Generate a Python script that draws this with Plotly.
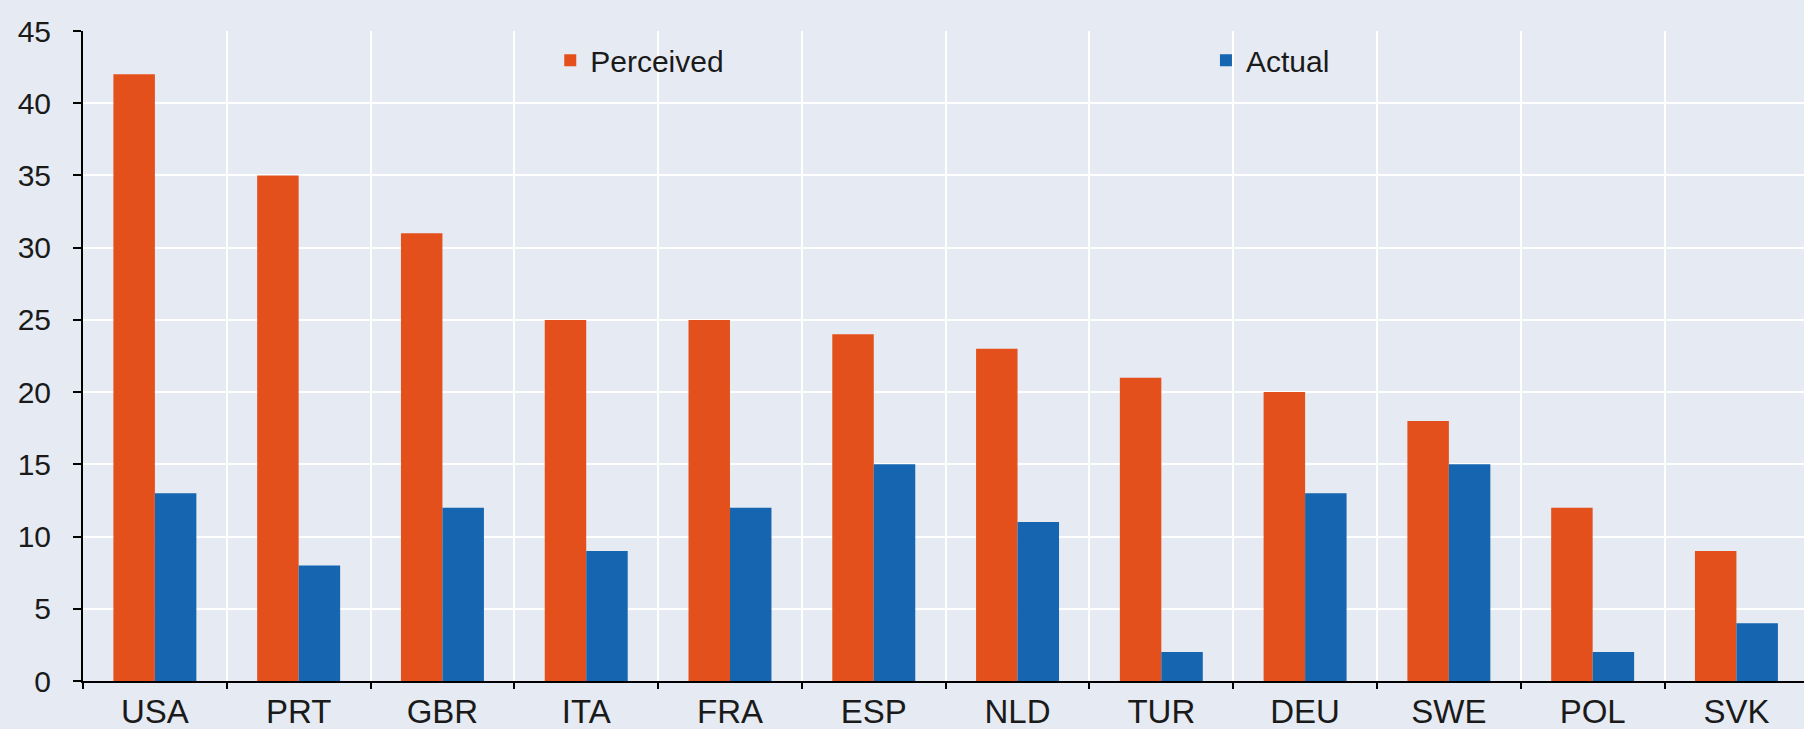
import plotly.graph_objects as go

countries = ["USA", "PRT", "GBR", "ITA", "FRA", "ESP", "NLD", "TUR", "DEU", "SWE", "POL", "SVK"]
perceived = [42, 35, 31, 25, 25, 24, 23, 21, 20, 18, 12, 9]
actual = [13, 8, 12, 9, 12, 15, 11, 2, 13, 15, 2, 4]
y_ticks = [0, 5, 10, 15, 20, 25, 30, 35, 40, 45]

BG = "#E6EAF2"
ORANGE = "#E4501C"
BLUE = "#1565B0"
FONT = "Liberation Sans, Arial, sans-serif"

fig = go.Figure()
fig.add_trace(go.Bar(x=countries, y=perceived, name="Perceived", legend="legend",
                     marker=dict(color=ORANGE, line=dict(width=0))))
fig.add_trace(go.Bar(x=countries, y=actual, name="Actual", legend="legend2",
                     marker=dict(color=BLUE, line=dict(width=0))))

leg_common = dict(orientation="h", y=0.995, xanchor="left", yanchor="top",
                  bgcolor="rgba(0,0,0,0)", itemwidth=30, font=dict(size=30))

fig.update_layout(
    width=1804, height=729,
    margin=dict(l=83, r=0, t=31, b=48),
    paper_bgcolor=BG, plot_bgcolor=BG,
    barmode="group", bargap=0.423, bargroupgap=0,
    font=dict(family=FONT, size=29, color="#1a1a1a"),
    legend=dict(x=0.2715, **leg_common),
    legend2=dict(x=0.6525, **leg_common),
    showlegend=True,
)
fig.update_xaxes(
    type="category", range=[-0.5, 11.47], tickson="boundaries",
    showgrid=True, gridcolor="white", gridwidth=2,
    showline=True, linecolor="black", linewidth=2,
    ticks="outside", ticklen=6, tickwidth=2, tickcolor="black",
    tickfont=dict(size=33),
)
fig.update_yaxes(
    range=[0, 45], tickvals=y_ticks,
    showgrid=True, gridcolor="white", gridwidth=2,
    showline=True, linecolor="black", linewidth=2,
    ticks="outside", ticklen=8, tickwidth=2, tickcolor="black",
    tickfont=dict(size=30), ticklabelstandoff=16, zeroline=False,
)

fig.write_html("out.html", config={"displayModeBar": False},
               post_script="document.body.style.margin='0';document.body.style.overflow='hidden';")
